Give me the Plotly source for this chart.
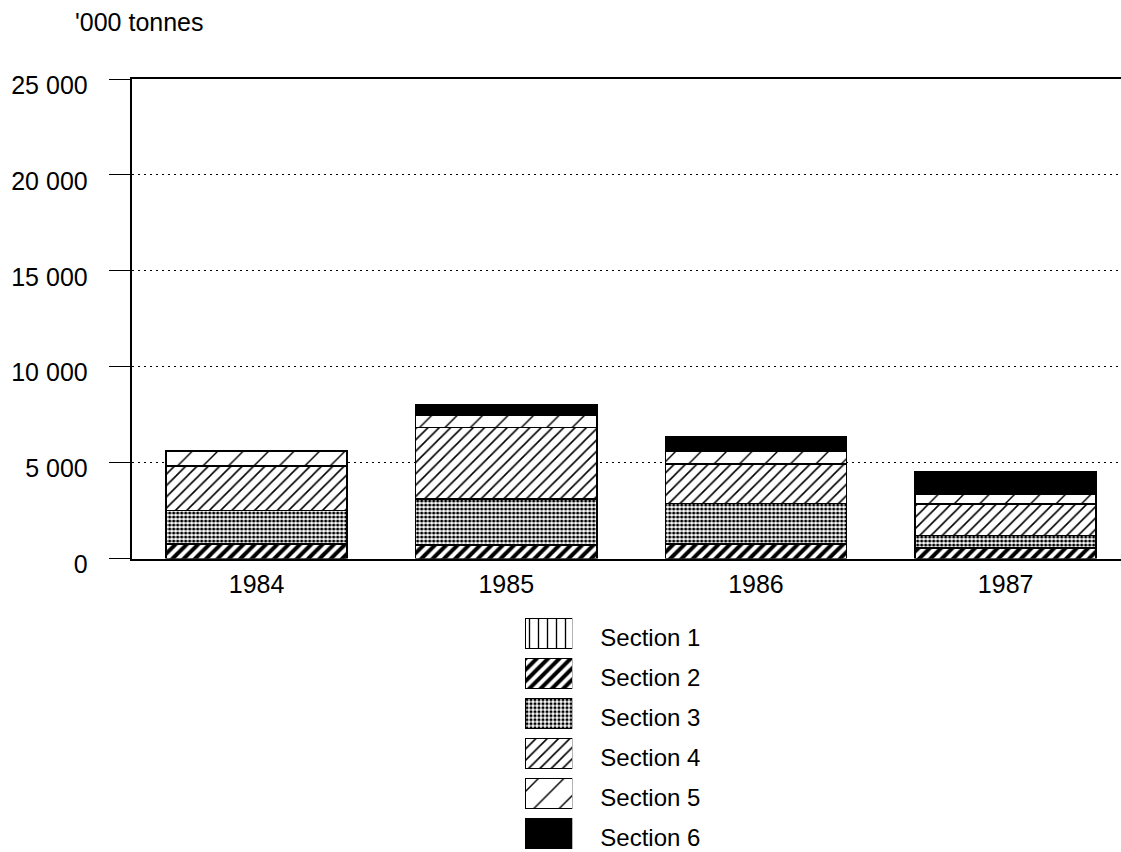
import plotly.graph_objects as go

W, H = 1121, 852

years = ["1984", "1985", "1986", "1987"]
sections = ["Section 1", "Section 2", "Section 3", "Section 4", "Section 5", "Section 6"]
s1 = [0, 0, 0, 0]
s2 = [750, 710, 760, 560]
s3 = [1740, 2400, 2100, 640]
s4 = [2340, 3710, 2070, 1630]
s5 = [745, 625, 680, 520]
s6 = [50, 590, 745, 1170]
series = [s1, s2, s3, s4, s5, s6]

y_ticks = [0, 5000, 10000, 15000, 20000, 25000]
y_ticktext = ["0", "5 000", "10 000", "15 000", "20 000", "25 000"]
unit_label = "'000 tonnes"

patterns = [
    dict(shape="|", size=9, solidity=0.15),
    dict(shape="/", size=8, solidity=0.5),
    dict(shape=".", size=4, solidity=0.5),
    dict(shape="/", size=8, solidity=0.2),
    dict(shape="/", size=18, solidity=0.08),
    None,
]

FONT = "Liberation Sans, Arial, Helvetica, sans-serif"

fig = go.Figure()

for name, vals, pat in zip(sections, series, patterns):
    if pat is None:
        marker = dict(color="black", line=dict(color="black", width=1.5))
    else:
        marker = dict(color="white", line=dict(color="black", width=1.5),
                      pattern=dict(fillmode="replace", bgcolor="white", fgcolor="black", **pat))
    fig.add_trace(go.Bar(x=years, y=vals, name=name, marker=marker, width=0.725,
                         showlegend=False, xaxis="x", yaxis="y"))
    # legend swatch drawn on its own small axes
    fig.add_trace(go.Bar(x=[1], y=[name], orientation="h", marker=marker, width=0.75,
                         showlegend=False, xaxis="x2", yaxis="y2", hoverinfo="skip"))

x0 = 131.7 / W
band = 249.7
xr_hi = -0.5 + (W - 131.7) / band

leg_top = 613.7
leg_rows = (H - leg_top) / 40.0

fig.update_layout(
    width=W, height=H,
    margin=dict(l=0, r=0, t=0, b=0),
    paper_bgcolor="white", plot_bgcolor="white",
    barmode="stack",
    font=dict(family=FONT, color="black", size=25),
    xaxis=dict(domain=[x0, 1.0], range=[-0.5, xr_hi], showline=True, linecolor="black",
               linewidth=2, mirror=True, ticks="", showgrid=False, zeroline=False,
               tickfont=dict(size=25), automargin=False, ticklabelstandoff=2),
    yaxis=dict(domain=[1 - 558.5 / H, 1 - 79 / H], range=[0, 25000], tickvals=y_ticks,
               ticktext=y_ticktext, showline=True, linecolor="black", linewidth=2,
               ticks="outside", ticklen=21, tickcolor="black", tickwidth=1,
               showgrid=True, gridcolor="black", gridwidth=1, griddash="2px,4px",
               zeroline=False, tickfont=dict(size=25), ticklabelstandoff=16,
               ticklabelshift=6, automargin=False),
    xaxis2=dict(domain=[525 / W, 572.3 / W], range=[0, 1], visible=False,
                anchor="y2", automargin=False),
    yaxis2=dict(domain=[0, 1 - leg_top / H], range=[-0.5 + leg_rows, -0.5],
                anchor="x2", side="right", showgrid=False, zeroline=False,
                showline=False, ticks="", tickfont=dict(size=24),
                ticklabelstandoff=27, ticklabelshift=-4, automargin=False),
    annotations=[dict(text=unit_label, xref="paper", yref="paper", x=73 / W, y=1 - 22 / H,
                      xanchor="left", yanchor="middle", showarrow=False,
                      font=dict(size=25, family=FONT, color="black"))],
)

fig.write_html(
    "out.html",
    config={"displayModeBar": False},
    post_script="document.body.style.margin='0px';document.body.style.overflow='hidden';",
)
